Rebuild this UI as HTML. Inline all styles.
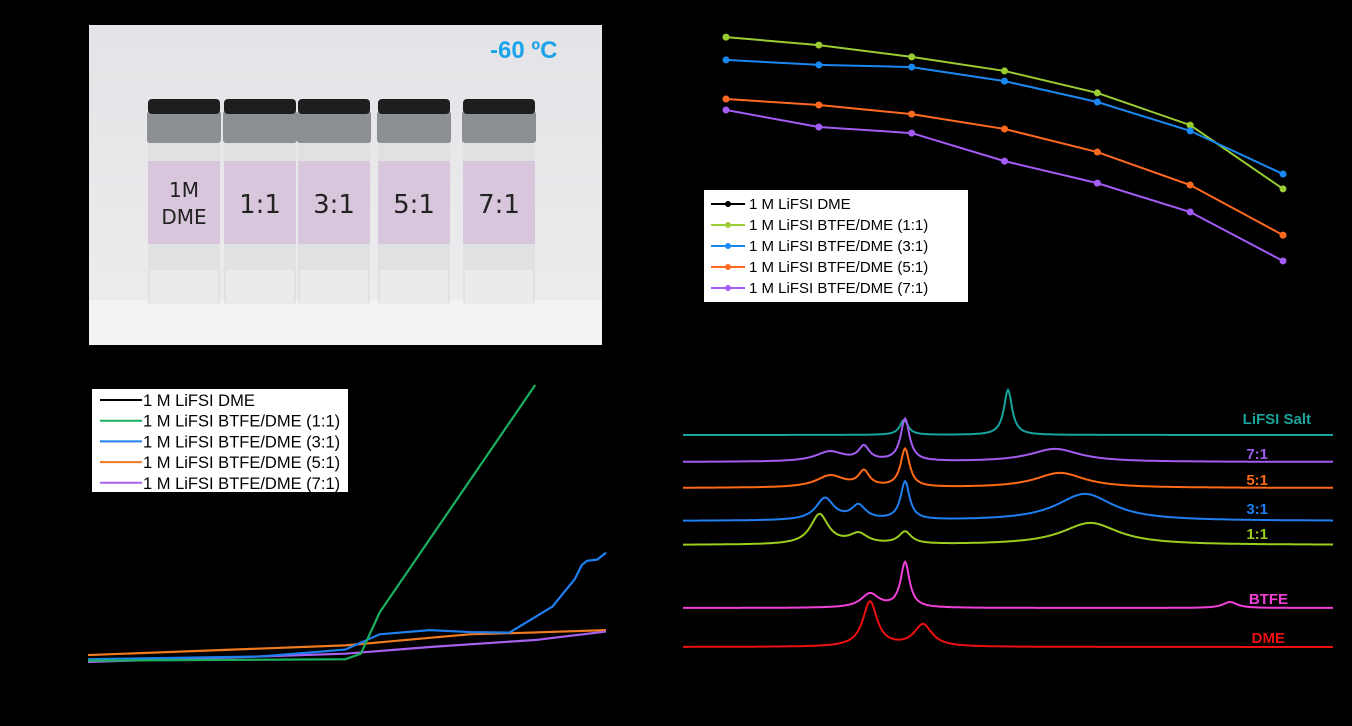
<!DOCTYPE html>
<html><head><meta charset="utf-8">
<style>
html,body{margin:0;padding:0;background:#000;width:1352px;height:726px;overflow:hidden;font-family:"Liberation Sans",sans-serif}
svg{position:absolute;left:0;top:0}
</style></head>
<body>
<svg id="fig" width="1352" height="726">
  <rect x="0" y="0" width="1352" height="726" fill="#000"/>
  <g>
    <defs>
      <linearGradient id="bg" x1="0" y1="0" x2="0" y2="1">
        <stop offset="0" stop-color="#e4e4e8"/><stop offset="0.85" stop-color="#ececee"/><stop offset="1" stop-color="#f4f4f4"/>
      </linearGradient>
    </defs>
    <rect x="89" y="25" width="513" height="320" fill="url(#bg)"/>
    <rect x="89" y="300" width="513" height="45" fill="#f3f3f3"/>
    <text x="490" y="58" font-size="24" font-weight="bold" fill="#1ca4ea">-60 ºC</text>
    <g id="vials"></g>
  </g>
  <g id="capchart"></g>
  <g id="lsvchart"></g>
  <g id="ramanchart"></g>
</svg>
<script>
const NS="http://www.w3.org/2000/svg";
function el(tag,attrs,parent){const e=document.createElementNS(NS,tag);for(const k in attrs)e.setAttribute(k,attrs[k]);parent.appendChild(e);return e;}

const vialX=[148,224,298,378,463];
const vialLabels=[["1M","DME"],["1:1"],["3:1"],["5:1"],["7:1"]];
const vg=document.getElementById('vials');
vialX.forEach((x,i)=>{
  const g=el('g',{},vg);
  
  
  const w=72;
  el('rect',{x:x,y:142,width:w,height:162,fill:'#dfe1e3',rx:3},g);
  el('rect',{x:x+2,y:270,width:w-4,height:34,fill:'#e9ebec'},g);
  el('rect',{x:x,y:161,width:w,height:83,fill:'#d8c7dc'},g);
  el('rect',{x:x-1,y:111,width:w+2,height:32,fill:'#8c9092',rx:3},g);
  el('rect',{x:x,y:99,width:w,height:15,fill:'#1e1e1e',rx:4},g);
  const lab=vialLabels[i];
  if(lab.length===2){
    el('text',{x:x+w/2,y:197,'text-anchor':'middle','font-size':20,fill:'#222','font-family':'"DejaVu Sans",sans-serif'},g).textContent=lab[0];
    el('text',{x:x+w/2,y:224,'text-anchor':'middle','font-size':20,fill:'#222','font-family':'"DejaVu Sans",sans-serif'},g).textContent=lab[1];
  } else {
    el('text',{x:x+w/2,y:213,'text-anchor':'middle','font-size':26,fill:'#222','font-family':'"DejaVu Sans",sans-serif'},g).textContent=lab[0];
  }
});
</script>
<script>
const capCycles=[1,2,3,4,5,6,7];
const capNames=["1 M LiFSI DME","1 M LiFSI BTFE/DME (1:1)","1 M LiFSI BTFE/DME (3:1)","1 M LiFSI BTFE/DME (5:1)","1 M LiFSI BTFE/DME (7:1)"];
const capColors=["#000000","#9acd32","#1a88f0","#ff6a20","#a35cf5"];
const cap11=[95.6,92.7,88.4,83.3,75.3,63.6,40.4];
const cap31=[87.3,85.5,84.7,79.6,72.0,61.5,45.8];
const cap51=[73.1,70.9,67.6,62.2,53.8,41.8,23.6];
const cap71=[69.1,62.9,60.7,50.5,42.5,32.0,14.2];
(function(){
  const g=document.getElementById('capchart');
  const xS=c=>726+(c-1)*(1283-726)/6;
  const yS=v=>300-v*2.75;
  const series=[[cap11,1],[cap31,2],[cap51,3],[cap71,4]];
  series.forEach(([d,ci])=>{
    const p=el('polyline',{points:d.map((v,i)=>xS(capCycles[i])+','+yS(v)).join(' '),fill:'none',stroke:capColors[ci],'stroke-width':2},g);
    
    
    d.forEach((v,i)=>{
      const c=el('circle',{cx:xS(capCycles[i]),cy:yS(v),r:3.5,fill:capColors[ci]},g);
      
      
    });
  });
  const lg=el('g',{},g);
  
  
  el('rect',{x:704,y:190,width:264,height:112,fill:'#fff'},lg);
  capNames.forEach((n,i)=>{
    const y=204+i*21;
    el('line',{x1:711,y1:y,x2:745,y2:y,stroke:capColors[i],'stroke-width':2},lg);
    el('circle',{cx:728,cy:y,r:3,fill:capColors[i]},lg);
    const t=el('text',{x:749,y:y+5,'font-size':15,fill:'#000'},lg);
    t.textContent=n;
    
    
  });
})();
</script>
<script>
const lsvNames=["1 M LiFSI DME","1 M LiFSI BTFE/DME (1:1)","1 M LiFSI BTFE/DME (3:1)","1 M LiFSI BTFE/DME (5:1)","1 M LiFSI BTFE/DME (7:1)"];
const lsvColors=["#000000","#1ab060","#1e7ff0","#f07a20","#a860f0"];
const v11=[3.0,4.49,4.58,4.69,5.59];
const i11=[0.05,0.1,0.3,1.8,10.0];
const v31=[3.0,4.0,4.49,4.69,4.98,5.21,5.44,5.69,5.82,5.86,5.89,5.95,6.0];
const i31=[0.1,0.2,0.45,1.0,1.15,1.08,1.06,2.0,3.0,3.5,3.65,3.7,3.95];
const v51=[3.0,4.49,5.21,5.5,6.0];
const i51=[0.25,0.6,1.0,1.05,1.15];
const v71=[3.0,4.49,5.0,5.6,6.0];
const i71=[0.0,0.3,0.55,0.8,1.1];
(function(){
  const g=document.getElementById('lsvchart');
  const xS=v=>88+(v-3)*518/3;
  const yS=i=>662-i*27.7;
  [[v51,i51,3],[v71,i71,4],[v31,i31,2],[v11,i11,1]].forEach(([vx,iy,ci])=>{
    const p=el('polyline',{points:vx.map((v,k)=>xS(v)+','+yS(iy[k])).join(' '),fill:'none',stroke:lsvColors[ci],'stroke-width':2.2,'stroke-linejoin':'round'},g);
    
    
  });
  const lg=el('g',{},g);
  
  
  el('rect',{x:92,y:389,width:256,height:103,fill:'#fff'},lg);
  lsvNames.forEach((n,i)=>{
    const y=400+i*20.7;
    el('line',{x1:100,y1:y,x2:142,y2:y,stroke:lsvColors[i],'stroke-width':2},lg);
    const t=el('text',{x:143,y:y+6,'font-size':16.5,fill:'#000'},lg);
    t.textContent=n;
    
    
  });
})();
</script>
<script>
const ramanNames=["LiFSI Salt","7:1","5:1","3:1","1:1","BTFE","DME"];
const ramanColors=["#1aa39b","#a45cf0","#ff6a13","#1e7ff0","#9acd1e","#f040d8","#ee1010"];
const ramanOffsets=[435,462,488,521,545,608,647];
const ramanPeakPos=[[850,802],[783.5,802.5,871.7,767.8],[802.5,783.5,768,874],[802.5,765.5,781,885.5],[763,781,802.5,888],[802.5,786.3,952.5],[786.3,810.8]];
const ramanPeakHt=[[45,15],[14,42,13,10],[38,15,12,15],[38,22,14,27],[30,10,12,22],[45,14,6],[45,22]];
const ramanPeakWd=[[2.3,2.3],[3,2.5,14,8],[2.5,3,8,14],[2.5,5,4,16],[5,5,3.5,16],[2.5,5,4],[4,5]];
(function(){
  const g=document.getElementById('ramanchart');
  const xS=w=>683+(w-700)*650/300;
  for(let s=0;s<ramanNames.length;s++){
    const pts=[];
    for(let w=700;w<=1000;w+=0.5){
      let y=0;
      ramanPeakPos[s].forEach((c,k)=>{const d=(w-c)/ramanPeakWd[s][k];y+=ramanPeakHt[s][k]/(1+d*d);});
      pts.push(xS(w).toFixed(1)+','+(ramanOffsets[s]-y).toFixed(1));
    }
    const p=el('polyline',{points:pts.join(' '),fill:'none',stroke:ramanColors[s],'stroke-width':2},g);
    
    
  }
  const labX=[1311,1268,1268,1268,1268,1288,1285];
  const labY=[424,459,485,514,539,604,643];
  ramanNames.forEach((n,i)=>{
    const t=el('text',{x:labX[i],y:labY[i],'text-anchor':'end','font-size':15,'font-weight':'bold',fill:ramanColors[i]},g);
    t.textContent=n;
    
    
  });
})();
</script>
</body></html>
